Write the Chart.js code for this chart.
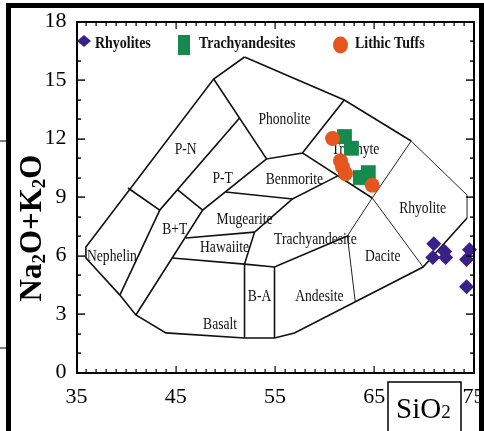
<!DOCTYPE html>
<html>
<head>
<meta charset="utf-8">
<script src="https://cdn.jsdelivr.net/npm/chart.js@4.4.1/dist/chart.umd.min.js"></script>
<style>
  html, body { margin: 0; padding: 0; background: #fff; }
  #wrap { width: 484px; height: 431px; position: relative; }
</style>
</head>
<body>
<div id="wrap"><canvas id="tas"></canvas></div>
<script>
// analyses: SiO2 (wt%) and Na2O+K2O (wt%)
var rhyoliteSiO2 = [71.0, 70.9, 72.1, 72.2, 74.6, 74.3, 74.3];
var rhyoliteAlk  = [6.6, 5.9, 6.2, 5.9, 6.3, 5.8, 4.4];
var trachyandSiO2 = [62.0, 62.7, 63.6, 64.4];
var trachyandAlk  = [12.1, 11.5, 10.0, 10.25];
var tuffSiO2 = [60.8, 61.6, 61.8, 62.1, 64.8];
var tuffAlk  = [12.0, 10.85, 10.55, 10.2, 9.6];

var xTicks = [35, 45, 55, 65, 75];
var yTicks = [0, 3, 6, 9, 12, 15, 18];

// TAS field boundaries, [SiO2, Na2O+K2O] vertices
var outerBoundary = [[51.93, 16.18], [48.82, 15.05], [35.95, 6.44], [35.95, 5.87], [39.37, 3.97], [40.98, 2.95],
  [44.0, 2.03], [51.93, 1.77], [54.95, 1.77], [56.96, 2.03], [69.92, 5.41], [74.35, 7.92]];
var upperRight = [[51.93, 16.18], [61.98, 13.97], [68.72, 11.87]];
var phonoliteEdge = [[48.82, 15.05], [54.15, 10.95], [57.76, 11.26], [61.98, 13.97]];
var pnEdge = [[51.43, 13.05], [43.39, 8.33], [40.18, 9.46]];
var nephEdge = [[43.39, 8.33], [39.37, 3.97]];
var btEdge = [[54.15, 10.95], [47.71, 8.33], [40.98, 2.95]];
var ptBase = [[45.2, 9.36], [47.71, 8.33]];
var benmoreiteBase = [[50.03, 9.26], [56.76, 8.9], [61.28, 10.07]];
var trachyteBase = [[57.76, 11.26], [64.8, 8.95]];
var mugeariteBase = [[46.0, 6.9], [52.94, 7.2]];
var taEdge = [[56.76, 8.9], [52.94, 7.2], [51.93, 5.56]];
var basaltTop = [[44.64, 5.87], [51.93, 5.56], [54.95, 5.41], [62.29, 7.0]];
var baLeft = [[51.93, 5.56], [51.93, 1.77]];
var baRight = [[54.95, 5.41], [54.95, 1.77]];
var rhyoliteDacite = [[64.8, 8.95], [69.92, 5.41]];
var trachyteRhyolite = [[68.72, 11.87], [64.8, 8.95], [62.29, 7.0], [63.09, 3.62]];
var rhyoliteTop = [[74.35, 7.92], [74.35, 9.1], [68.72, 11.87]];

var thickLines = [outerBoundary, upperRight, phonoliteEdge, pnEdge, nephEdge, btEdge, ptBase,
  benmoreiteBase, trachyteBase, mugeariteBase, taEdge, basaltTop, baLeft, baRight];
var thinLines = [rhyoliteDacite, trachyteRhyolite, rhyoliteTop];

var fieldNames = ['P-N', 'Phonolite', 'P-T', 'Benmorite', 'Trachyte', 'B+T', 'Mugearite', 'Hawaiite',
  'Trachyandesite', 'Nephelin', 'Rhyolite', 'Dacite', 'B-A', 'Andesite', 'Basalt'];
var fieldSiO2 = [46.0, 55.96, 49.72, 56.96, 63.1, 44.9, 51.93, 49.92, 59.07, 38.57, 69.87, 65.85, 53.44, 59.47, 49.47];
var fieldAlk  = [11.44, 12.97, 9.95, 9.9, 11.41, 7.31, 7.85, 6.41, 6.82, 5.95, 8.41, 5.95, 3.9, 3.9, 2.44];

var xMin = xTicks[0], xMax = xTicks[xTicks.length - 1];
var yMin = yTicks[0], yMax = yTicks[yTicks.length - 1];

function toPoints(xs, ys) {
  return xs.map(function (v, i) { return { x: v, y: ys[i] }; });
}
function pairPoints(line) {
  return line.map(function (p) { return { x: p[0], y: p[1] }; });
}

var datasets = [];
datasets.push({
  label: 'Lithic Tuffs', data: toPoints(tuffSiO2, tuffAlk), order: 1,
  pointStyle: 'circle', pointRadius: 7.5, backgroundColor: '#e5561e', borderColor: '#e5561e', borderWidth: 0, clip: false
});
datasets.push({
  label: 'Trachyandesites', data: toPoints(trachyandSiO2, trachyandAlk), order: 2,
  pointStyle: 'rect', pointRadius: 10.5, backgroundColor: '#168a4c', borderColor: '#168a4c', borderWidth: 0, clip: false
});
datasets.push({
  label: 'Rhyolites', data: toPoints(rhyoliteSiO2, rhyoliteAlk), order: 3,
  pointStyle: 'rectRot', pointRadius: 7.5, backgroundColor: '#3a2088', borderColor: '#3a2088', borderWidth: 0, clip: false
});
thickLines.forEach(function (l) {
  datasets.push({ data: pairPoints(l), showLine: true, pointRadius: 0, borderColor: '#111', borderWidth: 1.6, order: 10, tension: 0 });
});
thinLines.forEach(function (l) {
  datasets.push({ data: pairPoints(l), showLine: true, pointRadius: 0, borderColor: '#222', borderWidth: 1, order: 10, tension: 0 });
});

function squeezeText(ctx, str, x, y, font, sx, align) {
  ctx.save();
  ctx.font = font;
  ctx.translate(x, y);
  ctx.scale(sx, 1);
  ctx.textAlign = align;
  ctx.fillText(str, 0, 0);
  ctx.restore();
}

// plot frame and inward ticks, filled as thin bars
function drawPlotFrame(chart) {
  var ctx = chart.ctx, xs = chart.scales.x, ys = chart.scales.y;
  var x0 = Math.round(xs.getPixelForValue(xMin)), x1 = Math.round(xs.getPixelForValue(xMax));
  var y0 = Math.round(ys.getPixelForValue(yMax)), y1 = Math.round(ys.getPixelForValue(yMin));
  ctx.save();
  ctx.globalAlpha = 1;
  ctx.globalCompositeOperation = 'source-over';
  ctx.fillStyle = '#000';
  ctx.fillRect(x0 - 1, y0 - 1, 2, y1 - y0 + 2);
  ctx.fillRect(x1 - 1, y0 - 1, 2, y1 - y0 + 2);
  ctx.fillRect(x0 - 1, y0 - 1, x1 - x0 + 2, 2);
  ctx.fillRect(x0 - 1, y1 - 1, x1 - x0 + 2, 2);
  for (var v = xMin; v <= xMax; v++) {
    var px = Math.round(xs.getPixelForValue(v));
    var len = (v - xMin) % 10 === 0 ? 7 : 4;
    ctx.fillRect(px - 0.5, y1 - len, 1.2, len);
    ctx.fillRect(px - 0.5, y0, 1.2, len);
  }
  for (var w = yMin; w <= yMax; w++) {
    var py = Math.round(ys.getPixelForValue(w));
    var len2 = w % 3 === 0 ? 8 : 4;
    ctx.fillRect(x0, py - 0.6, len2, 1.4);
    ctx.fillRect(x1 - len2, py - 0.6, len2, 1.4);
  }
  ctx.restore();
}

var tasDecor = {
  id: 'tasDecor',
  beforeDatasetsDraw: function (chart) {
    var ctx = chart.ctx, xs = chart.scales.x, ys = chart.scales.y;
    ctx.save();
    ctx.fillStyle = '#111';
    ctx.textBaseline = 'middle';
    for (var i = 0; i < fieldNames.length; i++) {
      squeezeText(ctx, fieldNames[i], xs.getPixelForValue(fieldSiO2[i]), ys.getPixelForValue(fieldAlk[i]),
        '17px "Liberation Serif"', 0.8, 'center');
    }
    ctx.restore();
  },
  afterDraw: function (chart) {
    var ctx = chart.ctx;
    drawPlotFrame(chart);
    ctx.save();
    // legend row
    ctx.fillStyle = '#3a2088';
    ctx.beginPath();
    ctx.moveTo(84, 35); ctx.lineTo(91, 41); ctx.lineTo(84, 47); ctx.lineTo(77, 41); ctx.closePath();
    ctx.fill();
    ctx.fillStyle = '#168a4c';
    ctx.fillRect(178, 35, 12, 20);
    ctx.fillStyle = '#e5561e';
    ctx.beginPath();
    ctx.ellipse(340.5, 45, 7.5, 8.5, 0, 0, Math.PI * 2);
    ctx.fill();
    ctx.fillStyle = '#111';
    ctx.textBaseline = 'alphabetic';
    squeezeText(ctx, 'Rhyolites', 95, 48, 'bold 17px "Liberation Serif"', 0.82, 'left');
    squeezeText(ctx, 'Trachyandesites', 199, 48, 'bold 17px "Liberation Serif"', 0.82, 'left');
    squeezeText(ctx, 'Lithic Tuffs', 355, 48, 'bold 17px "Liberation Serif"', 0.82, 'left');

    // y axis title with subscripts
    ctx.save();
    ctx.translate(41, 228);
    ctx.rotate(-Math.PI / 2);
    ctx.fillStyle = '#000';
    var parts = [['Na', 0], ['2', 1], ['O+K', 0], ['2', 1], ['O', 0]];
    var big = 'bold 31px "Liberation Serif"', small = 'bold 19px "Liberation Serif"';
    var total = 0;
    parts.forEach(function (p) { ctx.font = p[1] ? small : big; total += ctx.measureText(p[0]).width; });
    var cx = -total / 2;
    parts.forEach(function (p) {
      ctx.font = p[1] ? small : big;
      ctx.fillText(p[0], cx, p[1] ? 4 : 0);
      cx += ctx.measureText(p[0]).width;
    });
    ctx.restore();

    // SiO2 box
    ctx.strokeStyle = '#000';
    ctx.lineWidth = 1.5;
    ctx.strokeRect(388, 382, 73, 60);
    ctx.fillStyle = '#000';
    ctx.font = '29px "Liberation Serif"';
    ctx.fillText('SiO', 396, 418);
    var sw = ctx.measureText('SiO').width;
    ctx.font = '19px "Liberation Serif"';
    ctx.fillText('2', 396 + sw, 418);

    // outer frame
    ctx.fillStyle = '#000';
    ctx.fillRect(6, 3, 478, 5);
    ctx.fillRect(6, 3, 5, 428);
    ctx.fillRect(479, 3, 5, 428);
    ctx.fillRect(0, 140.5, 6, 1);
    ctx.fillRect(0, 347.5, 6, 1);
    ctx.restore();
  }
};

new Chart(document.getElementById('tas'), {
  type: 'scatter',
  data: { datasets: datasets },
  options: {
    responsive: true,
    maintainAspectRatio: false,
    animation: false,
    layout: { padding: { left: 0, right: 9.5, top: 21.5, bottom: 0 } },
    plugins: { legend: { display: false }, tooltip: { enabled: false } },
    scales: {
      x: {
        type: 'linear', min: xMin, max: xMax,
        grid: { display: false, drawTicks: false }, border: { display: false },
        ticks: { font: { family: '"Liberation Serif"', size: 22 }, color: '#000', padding: 12, maxRotation: 0, autoSkip: false },
        afterBuildTicks: function (s) { s.ticks = xTicks.map(function (v) { return { value: v }; }); },
        afterFit: function (s) { s.height = 58.5; s.paddingLeft = 0; s.paddingRight = 0; }
      },
      y: {
        type: 'linear', min: yMin, max: yMax,
        grid: { display: false, drawTicks: false }, border: { display: false },
        ticks: { font: { family: '"Liberation Serif"', size: 22 }, color: '#000', padding: 10, autoSkip: false },
        afterBuildTicks: function (s) { s.ticks = yTicks.map(function (v) { return { value: v }; }); },
        afterFit: function (s) { s.width = 76.5; s.paddingTop = 0; s.paddingBottom = 0; }
      }
    }
  },
  plugins: [tasDecor]
});
</script>
</body>
</html>
